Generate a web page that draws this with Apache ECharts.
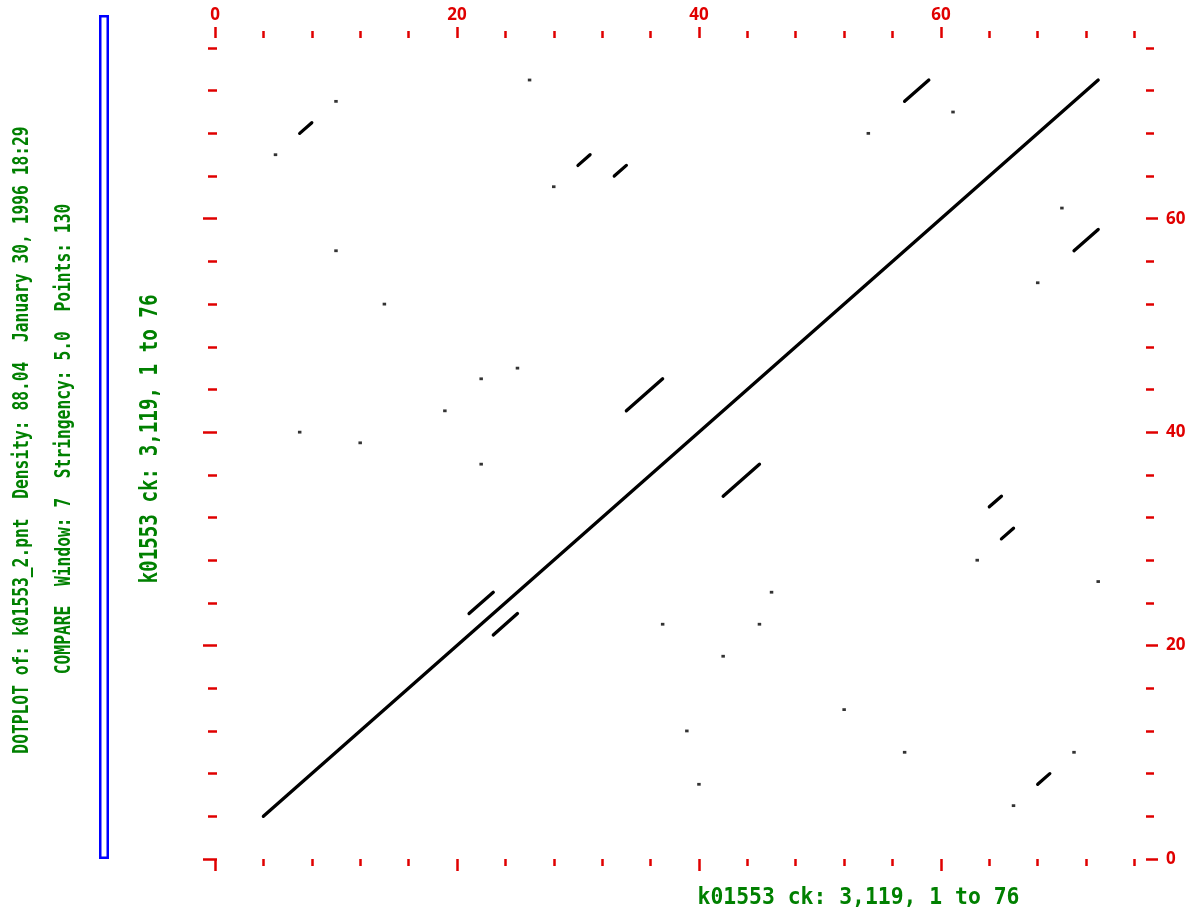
<!DOCTYPE html>
<html>
<head>
<meta charset="utf-8">
<script src="https://cdn.jsdelivr.net/npm/echarts@6/dist/echarts.min.js"></script>
<style>
  html, body { margin: 0; padding: 0; background: #fff; }
  #chart { width: 1190px; height: 913px; }
</style>
</head>
<body>
<div id="chart"></div>
<script>
// 轴的范围和刻度
const axisMax = 76
const tickStep = 4
const labelValues = [0, 20, 40, 60]

// 连续匹配的线段（起点，终点）
const mainDiagonal = [[4, 4], [73, 73]]
const segments = [
  [[7, 68], [8, 69]],
  [[30, 65], [31, 66]],
  [[33, 64], [34, 65]],
  [[34, 42], [37, 45]],
  [[57, 71], [59, 73]],
  [[71, 57], [73, 59]],
  [[21, 23], [23, 25]],
  [[23, 21], [25, 23]],
  [[42, 34], [45, 37]],
  [[64, 33], [65, 34]],
  [[65, 30], [66, 31]],
  [[68, 7], [69, 8]]
]

// 单个点
const dots = [
  [26, 73], [10, 71], [5, 66], [28, 63], [10, 57], [14, 52], [25, 46],
  [22, 45], [19, 42], [7, 40], [12, 39], [61, 70], [54, 68], [70, 61],
  [68, 54], [22, 37], [37, 22], [39, 12], [63, 28], [73, 26], [46, 25],
  [45, 22], [42, 19], [52, 14], [57, 10], [71, 10], [40, 7], [66, 5]
]

const titleLine1 = 'DOTPLOT of: k01553_2.pnt  Density: 88.04  January 30, 1996 18:29'
const titleLine2 = 'COMPARE  Window: 7  Stringency: 5.0  Points: 130'
const seqLabel = 'k01553 ck: 3,119, 1 to 76'

const red = '#e00000'
const green = '#008000'
const monoFont = 'bold 22px "DejaVu Sans Mono"'

function makeAxis(position, offset, len, major) {
  const axis = {
    type: 'value',
    position: position,
    min: 0,
    max: axisMax,
    interval: tickStep,
    offset: offset,
    splitLine: { show: false },
    axisLine: { show: false, onZero: false },
    axisTick: {
      show: true,
      inside: false,
      length: len,
      lineStyle: { color: red, width: 2.5 }
    },
    axisLabel: { show: false }
  }
  if (major) {
    axis.axisTick.customValues = labelValues
  }
  return axis
}

const labelStyle = {
  show: true,
  customValues: labelValues,
  color: red,
  fontFamily: 'Noto Sans',
  fontWeight: 'bold',
  fontSize: 17
}

const chart = echarts.init(document.getElementById('chart'))

const xTop = makeAxis('top', 10, 7, false)
const xTopMajor = makeAxis('top', 10, 11, true)
xTopMajor.axisLabel = Object.assign({ margin: 14 }, labelStyle)
const xBottom = makeAxis('bottom', 0, 7, false)
const xBottomMajor = makeAxis('bottom', 0, 12, true)

const yLeft = makeAxis('left', -2, 9, false)
const yLeftMajor = makeAxis('left', -2, 14, true)
const yRight = makeAxis('right', 11.5, 8, false)
const yRightMajor = makeAxis('right', 11.5, 12, true)
yRightMajor.axisLabel = Object.assign({ margin: 20 }, labelStyle)

const lineData = [{ coords: mainDiagonal }].concat(
  segments.map((s) => {
    return { coords: s }
  })
)

const option = {
  animation: false,
  backgroundColor: '#fff',
  grid: {
    left: 215,
    right: 55.5,
    top: 48,
    bottom: 54
  },
  xAxis: [xTop, xTopMajor, xBottom, xBottomMajor],
  yAxis: [yLeft, yLeftMajor, yRight, yRightMajor],
  series: [
    {
      type: 'lines',
      coordinateSystem: 'cartesian2d',
      xAxisIndex: 0,
      yAxisIndex: 0,
      data: lineData,
      lineStyle: { color: '#000', width: 3.3, opacity: 1, cap: 'round' },
      silent: true
    },
    {
      type: 'scatter',
      xAxisIndex: 0,
      yAxisIndex: 0,
      data: dots,
      symbol: 'rect',
      symbolSize: [3.5, 2.8],
      itemStyle: { color: '#000' },
      silent: true
    }
  ],
  graphic: [
    {
      type: 'rect',
      shape: { x: 100.25, y: 16.25, width: 7.5, height: 841.5 },
      style: { fill: '#fff', stroke: '#0000ff', lineWidth: 2.5 }
    },
    {
      type: 'text',
      x: 22,
      y: 440,
      rotation: Math.PI / 2,
      scaleX: 0.74,
      style: { text: titleLine1, fill: green, font: monoFont, textAlign: 'center', textVerticalAlign: 'middle' }
    },
    {
      type: 'text',
      x: 64,
      y: 439,
      rotation: Math.PI / 2,
      scaleX: 0.74,
      style: { text: titleLine2, fill: green, font: monoFont, textAlign: 'center', textVerticalAlign: 'middle' }
    },
    {
      type: 'text',
      x: 151,
      y: 439,
      rotation: Math.PI / 2,
      scaleX: 0.8,
      style: { text: seqLabel, fill: green, font: 'bold 24px "DejaVu Sans Mono"', textAlign: 'center', textVerticalAlign: 'middle' }
    },
    {
      type: 'text',
      x: 858.5,
      y: 898,
      scaleX: 0.93,
      style: { text: seqLabel, fill: green, font: 'bold 23px "DejaVu Sans Mono"', textAlign: 'center', textVerticalAlign: 'middle' }
    }
  ]
}

chart.setOption(option)
</script>
</body>
</html>
